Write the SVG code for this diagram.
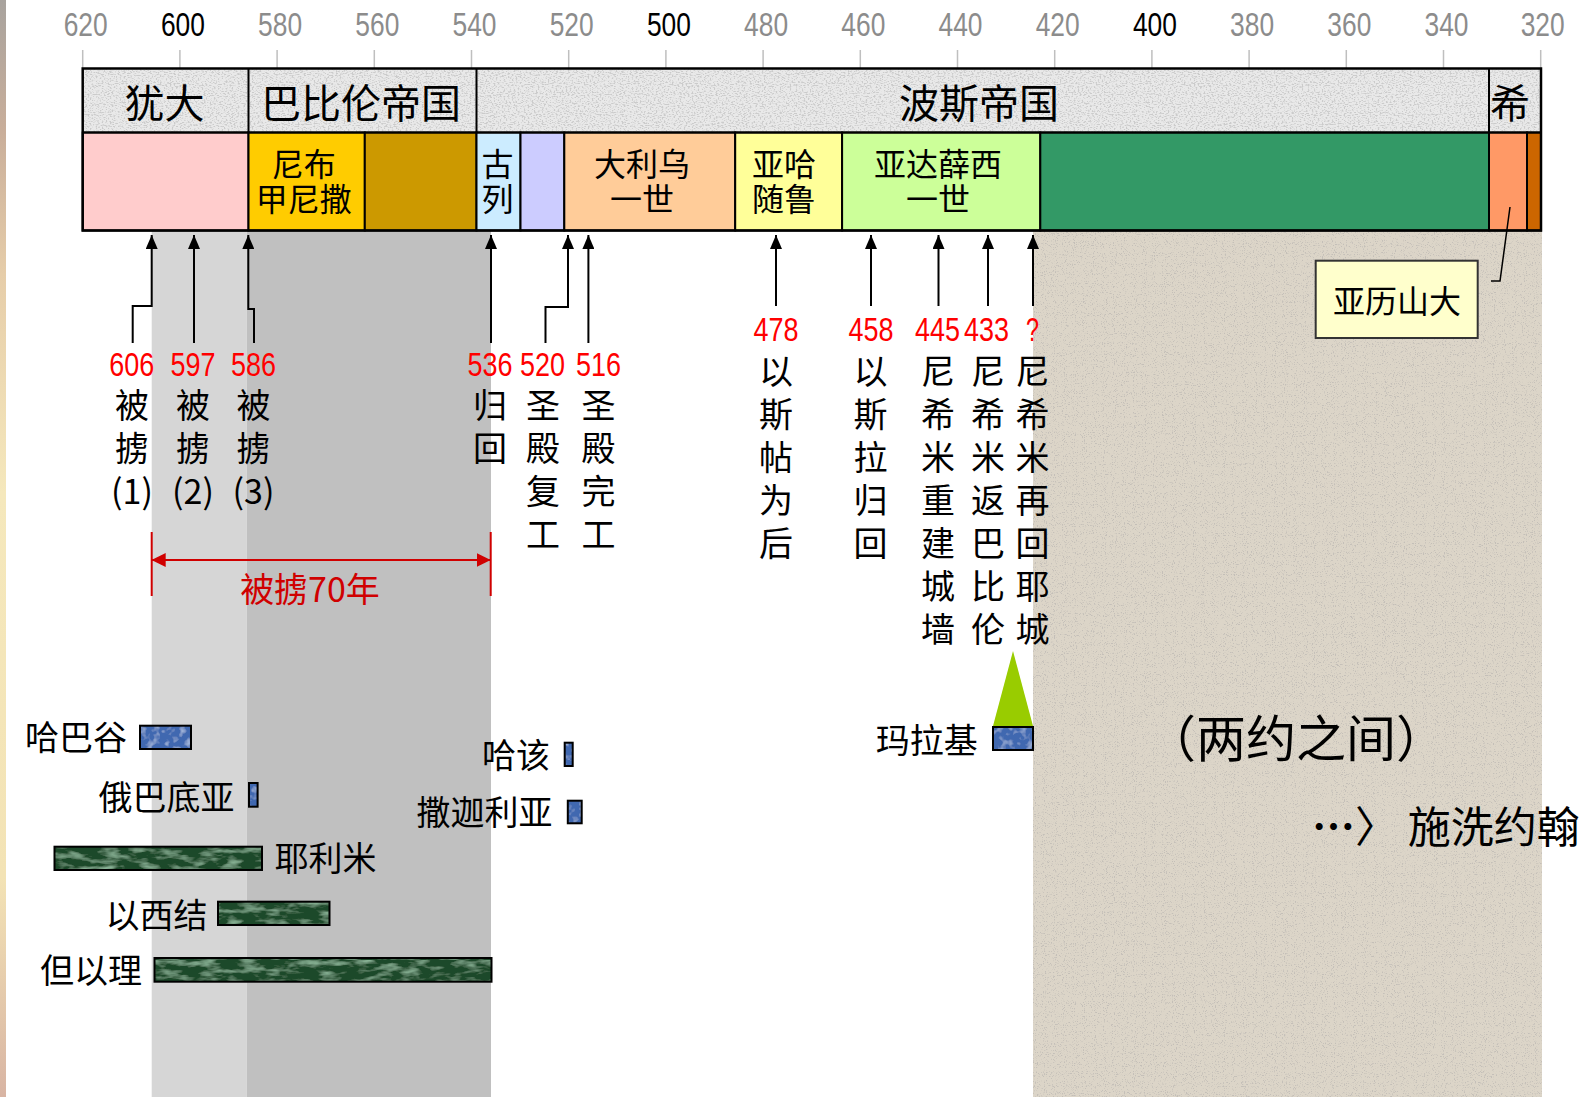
<svg xmlns="http://www.w3.org/2000/svg" width="1585" height="1097" viewBox="0 0 1585 1097">
<defs>
<style>
.ax{font-family:'Liberation Sans',sans-serif;font-size:33px;fill:#8C8C8C;text-anchor:middle}
.ax.k{fill:#000}
.yr{font-family:'Liberation Sans',sans-serif;font-size:33px;fill:#FF0000;text-anchor:middle}
.cj{font-family:'Noto Sans CJK SC','Noto Sans',sans-serif;fill:#000}
.t40{font-size:40px;text-anchor:middle}
.t32{font-size:32px;text-anchor:middle}
.col{font-size:34px;text-anchor:middle}
.lab{font-size:34px}
.end{text-anchor:end}
.arr{fill:none;stroke:#000;stroke-width:2;marker-end:url(#ah)}
.seg{stroke:#000;stroke-width:2}
.tick{stroke:#BFBFBF;stroke-width:1.5}
.gbar{fill:url(#pGreen);stroke:#000;stroke-width:2}
.bbar{fill:url(#pBlue);stroke:#000;stroke-width:2}
</style>
<marker id="ah" viewBox="0 0 14 12" refX="14" refY="6" markerWidth="14" markerHeight="12" markerUnits="userSpaceOnUse" orient="auto">
<path d="M0,0 L14,6 L0,12 Z" fill="#000"/>
</marker>
<marker id="rh" viewBox="0 0 14 14" refX="14" refY="7" markerWidth="14" markerHeight="14" markerUnits="userSpaceOnUse" orient="auto-start-reverse">
<path d="M0,0 L14,7 L0,14 Z" fill="#D00000"/>
</marker>
<linearGradient id="edge" x1="0" y1="0" x2="0" y2="1">
<stop offset="0" stop-color="#A8A39E"/>
<stop offset="0.12" stop-color="#C9AE9A"/>
<stop offset="0.25" stop-color="#E6CDA9"/>
<stop offset="0.45" stop-color="#F5E8BC"/>
<stop offset="0.8" stop-color="#F3E3B5"/>
<stop offset="1" stop-color="#D8B4A3"/>
</linearGradient>
<filter id="grain">
<feTurbulence type="fractalNoise" baseFrequency="0.9" numOctaves="2" seed="2" result="n"/>
<feColorMatrix in="n" type="matrix" values="0 0 0 0 0.55  0 0 0 0 0.52  0 0 0 0 0.48  0 0 0 -6 2.6" result="d"/>
<feComposite in="d" in2="SourceGraphic" operator="atop"/>
</filter>
<filter id="fibre">
<feTurbulence type="fractalNoise" baseFrequency="0.5 0.9" numOctaves="2" seed="9" result="n"/>
<feColorMatrix in="n" type="matrix" values="0 0 0 0 0.6  0 0 0 0 0.6  0 0 0 0 0.6  0 0 0 -5 2.6" result="d"/>
<feComposite in="d" in2="SourceGraphic" operator="atop"/>
</filter>
<filter id="marble">
<feTurbulence type="fractalNoise" baseFrequency="0.05 0.15" numOctaves="3" seed="5" result="n"/>
<feColorMatrix in="n" type="matrix" values="0 0 0 0 0.28  0 0 0 0 0.5  0 0 0 0 0.34  2.2 0 0 0 -1.0" result="l"/>
<feComposite in="l" in2="SourceGraphic" operator="atop"/>
</filter>
<filter id="bluetex">
<feTurbulence type="fractalNoise" baseFrequency="0.15" numOctaves="2" seed="4" result="n"/>
<feColorMatrix in="n" type="matrix" values="0 0 0 0 0.52  0 0 0 0 0.64  0 0 0 0 0.85  1.8 0 0 0 -0.9" result="l"/>
<feComposite in="l" in2="SourceGraphic" operator="atop"/>
</filter>
<pattern id="pGreen" patternUnits="userSpaceOnUse" width="500" height="60">
<rect width="500" height="60" fill="#1D4A29" filter="url(#marble)"/>
</pattern>
<pattern id="pBlue" patternUnits="userSpaceOnUse" width="80" height="40">
<rect width="80" height="40" fill="#4068B0" filter="url(#bluetex)"/>
</pattern>
</defs>

<rect width="1585" height="1097" fill="#FFFFFF"/>
<rect x="0" y="0" width="6" height="1097" fill="url(#edge)"/>

<g id="bands">
<rect x="151.7" y="231" width="95" height="866" fill="#D6D6D6"/>
<rect x="246.7" y="231" width="244.3" height="866" fill="#C0C0C0"/>
<rect x="1033" y="231" width="509" height="866" fill="#DCD5C8" filter="url(#grain)"/>
</g>

<g id="axis">
<g class="tick">
<line x1="82.7" y1="50" x2="82.7" y2="68"/><line x1="179.9" y1="50" x2="179.9" y2="68"/><line x1="277.1" y1="50" x2="277.1" y2="68"/><line x1="374.3" y1="50" x2="374.3" y2="68"/><line x1="471.5" y1="50" x2="471.5" y2="68"/><line x1="568.7" y1="50" x2="568.7" y2="68"/><line x1="665.9" y1="50" x2="665.9" y2="68"/><line x1="763.1" y1="50" x2="763.1" y2="68"/><line x1="860.3" y1="50" x2="860.3" y2="68"/><line x1="957.5" y1="50" x2="957.5" y2="68"/><line x1="1054.7" y1="50" x2="1054.7" y2="68"/><line x1="1151.9" y1="50" x2="1151.9" y2="68"/><line x1="1249.1" y1="50" x2="1249.1" y2="68"/><line x1="1346.3" y1="50" x2="1346.3" y2="68"/><line x1="1443.5" y1="50" x2="1443.5" y2="68"/><line x1="1540.7" y1="50" x2="1540.7" y2="68"/>
</g>
<text class="ax" x="85.7" y="36" textLength="44" lengthAdjust="spacingAndGlyphs">620</text>
<text class="ax k" x="182.9" y="36" textLength="44" lengthAdjust="spacingAndGlyphs">600</text>
<text class="ax" x="280.1" y="36" textLength="44" lengthAdjust="spacingAndGlyphs">580</text>
<text class="ax" x="377.3" y="36" textLength="44" lengthAdjust="spacingAndGlyphs">560</text>
<text class="ax" x="474.5" y="36" textLength="44" lengthAdjust="spacingAndGlyphs">540</text>
<text class="ax" x="571.7" y="36" textLength="44" lengthAdjust="spacingAndGlyphs">520</text>
<text class="ax k" x="668.9" y="36" textLength="44" lengthAdjust="spacingAndGlyphs">500</text>
<text class="ax" x="766.1" y="36" textLength="44" lengthAdjust="spacingAndGlyphs">480</text>
<text class="ax" x="863.3" y="36" textLength="44" lengthAdjust="spacingAndGlyphs">460</text>
<text class="ax" x="960.5" y="36" textLength="44" lengthAdjust="spacingAndGlyphs">440</text>
<text class="ax" x="1057.7" y="36" textLength="44" lengthAdjust="spacingAndGlyphs">420</text>
<text class="ax k" x="1154.9" y="36" textLength="44" lengthAdjust="spacingAndGlyphs">400</text>
<text class="ax" x="1252.1" y="36" textLength="44" lengthAdjust="spacingAndGlyphs">380</text>
<text class="ax" x="1349.3" y="36" textLength="44" lengthAdjust="spacingAndGlyphs">360</text>
<text class="ax" x="1446.5" y="36" textLength="44" lengthAdjust="spacingAndGlyphs">340</text>
<text class="ax" x="1542.7" y="36" textLength="44" lengthAdjust="spacingAndGlyphs">320</text>
</g>

<g id="empires">
<rect x="82.7" y="68.5" width="1458.3" height="64" fill="#E9E9E9" filter="url(#fibre)"/>
<text class="cj t40" x="164.5" y="118">犹大</text>
<text class="cj t40" x="361" y="118">巴比伦帝国</text>
<text class="cj t40" x="979" y="118">波斯帝国</text>
<text class="cj t40" x="1510" y="118">希</text>
</g>

<g id="rulers">
<rect class="seg" x="82.7" y="132.5" width="165.8" height="98" fill="#FFCCCC"/>
<rect class="seg" x="248.5" y="132.5" width="116.3" height="98" fill="#FFCC00"/>
<rect class="seg" x="364.8" y="132.5" width="111.7" height="98" fill="#CC9900"/>
<rect class="seg" x="476.5" y="132.5" width="44" height="98" fill="#CCECFF"/>
<rect class="seg" x="520.5" y="132.5" width="43.8" height="98" fill="#CCCCFF"/>
<rect class="seg" x="564.3" y="132.5" width="170.9" height="98" fill="#FFCC99"/>
<rect class="seg" x="735.2" y="132.5" width="106.9" height="98" fill="#FFFF99"/>
<rect class="seg" x="842.1" y="132.5" width="198.2" height="98" fill="#CCFF99"/>
<rect class="seg" x="1040.3" y="132.5" width="448.7" height="98" fill="#339966"/>
<rect class="seg" x="1489" y="132.5" width="38" height="98" fill="#FF9966"/>
<rect class="seg" x="1527" y="132.5" width="14" height="98" fill="#CC6600"/>
<text class="cj t32" x="303.7" y="176"><tspan x="303.7">尼布</tspan><tspan x="303.7" dy="35">甲尼撒</tspan></text>
<text class="cj t32" x="497.5" y="176"><tspan x="497.5">古</tspan><tspan x="497.5" dy="35">列</tspan></text>
<text class="cj t32" x="642" y="176"><tspan x="642">大利乌</tspan><tspan x="642" dy="35">一世</tspan></text>
<text class="cj t32" x="784" y="176"><tspan x="784">亚哈</tspan><tspan x="784" dy="35">随鲁</tspan></text>
<text class="cj t32" x="938" y="176"><tspan x="938">亚达薛西</tspan><tspan x="938" dy="35">一世</tspan></text>
</g>

<g id="frame" fill="none" stroke="#000">
<rect x="82.7" y="68.5" width="1458.3" height="162" stroke-width="2.5"/>
<line x1="82.7" y1="132.5" x2="1541" y2="132.5" stroke-width="2"/>
<line x1="248.5" y1="68.5" x2="248.5" y2="132.5" stroke-width="2"/>
<line x1="476.5" y1="68.5" x2="476.5" y2="132.5" stroke-width="2"/>
<line x1="1489" y1="68.5" x2="1489" y2="132.5" stroke-width="2"/>
</g>

<g id="connectors">
<path class="arr" d="M132.7,343 V306 H151.7 V235"/>
<path class="arr" d="M194,343 V235"/>
<path class="arr" d="M254,343 V309 H248.3 V235"/>
<path class="arr" d="M491,343 V235"/>
<path class="arr" d="M545.5,343 V307 H568 V235"/>
<path class="arr" d="M588.4,343 V235"/>
<path class="arr" d="M776,306 V235"/>
<path class="arr" d="M871,306 V235"/>
<path class="arr" d="M938.5,306 V235"/>
<path class="arr" d="M988,306 V235"/>
<path class="arr" d="M1033,306 V235"/>
<path d="M1491,281 H1500 L1510,207" fill="none" stroke="#000" stroke-width="1.5"/>
<g stroke="#D00000" stroke-width="2" fill="none">
<path d="M151.7,560 H490.7" marker-start="url(#rh)" marker-end="url(#rh)"/>
<path d="M151.7,532 V596"/>
<path d="M490.7,532 V596"/>
</g>
</g>

<g id="events">
<text class="yr" x="131.7" y="376" textLength="45" lengthAdjust="spacingAndGlyphs">606</text>
<text class="yr" x="193" y="376" textLength="45" lengthAdjust="spacingAndGlyphs">597</text>
<text class="yr" x="253.5" y="376" textLength="45" lengthAdjust="spacingAndGlyphs">586</text>
<text class="yr" x="490" y="376" textLength="45" lengthAdjust="spacingAndGlyphs">536</text>
<text class="yr" x="542.5" y="376" textLength="45" lengthAdjust="spacingAndGlyphs">520</text>
<text class="yr" x="598.5" y="376" textLength="45" lengthAdjust="spacingAndGlyphs">516</text>
<text class="yr" x="776" y="341" textLength="45" lengthAdjust="spacingAndGlyphs">478</text>
<text class="yr" x="871" y="341" textLength="45" lengthAdjust="spacingAndGlyphs">458</text>
<text class="yr" x="937.6" y="341" textLength="45" lengthAdjust="spacingAndGlyphs">445</text>
<text class="yr" x="986.5" y="341" textLength="45" lengthAdjust="spacingAndGlyphs">433</text>
<text class="yr" x="1032.5" y="341" textLength="13" lengthAdjust="spacingAndGlyphs">?</text>

<text class="cj col" x="132" y="418"><tspan x="132">被</tspan><tspan x="132" dy="43">掳</tspan><tspan x="132" dy="43">(1)</tspan></text>
<text class="cj col" x="193" y="418"><tspan x="193">被</tspan><tspan x="193" dy="43">掳</tspan><tspan x="193" dy="43">(2)</tspan></text>
<text class="cj col" x="253.5" y="418"><tspan x="253.5">被</tspan><tspan x="253.5" dy="43">掳</tspan><tspan x="253.5" dy="43">(3)</tspan></text>
<text class="cj col" x="490" y="418"><tspan x="490">归</tspan><tspan x="490" dy="43">回</tspan></text>
<text class="cj col" x="543" y="418"><tspan x="543">圣</tspan><tspan x="543" dy="43">殿</tspan><tspan x="543" dy="43">复</tspan><tspan x="543" dy="43">工</tspan></text>
<text class="cj col" x="598.5" y="418"><tspan x="598.5">圣</tspan><tspan x="598.5" dy="43">殿</tspan><tspan x="598.5" dy="43">完</tspan><tspan x="598.5" dy="43">工</tspan></text>
<text class="cj col" x="776" y="384"><tspan x="776">以</tspan><tspan x="776" dy="43">斯</tspan><tspan x="776" dy="43">帖</tspan><tspan x="776" dy="43">为</tspan><tspan x="776" dy="43">后</tspan></text>
<text class="cj col" x="870.5" y="384"><tspan x="870.5">以</tspan><tspan x="870.5" dy="43">斯</tspan><tspan x="870.5" dy="43">拉</tspan><tspan x="870.5" dy="43">归</tspan><tspan x="870.5" dy="43">回</tspan></text>
<text class="cj col" x="938" y="384"><tspan x="938">尼</tspan><tspan x="938" dy="43">希</tspan><tspan x="938" dy="43">米</tspan><tspan x="938" dy="43">重</tspan><tspan x="938" dy="43">建</tspan><tspan x="938" dy="43">城</tspan><tspan x="938" dy="43">墙</tspan></text>
<text class="cj col" x="988" y="384"><tspan x="988">尼</tspan><tspan x="988" dy="43">希</tspan><tspan x="988" dy="43">米</tspan><tspan x="988" dy="43">返</tspan><tspan x="988" dy="43">巴</tspan><tspan x="988" dy="43">比</tspan><tspan x="988" dy="43">伦</tspan></text>
<text class="cj col" x="1032.5" y="384"><tspan x="1032.5">尼</tspan><tspan x="1032.5" dy="43">希</tspan><tspan x="1032.5" dy="43">米</tspan><tspan x="1032.5" dy="43">再</tspan><tspan x="1032.5" dy="43">回</tspan><tspan x="1032.5" dy="43">耶</tspan><tspan x="1032.5" dy="43">城</tspan></text>

<text class="cj" x="310" y="602" font-size="34" text-anchor="middle" style="fill:#D00000">被掳70年</text>
</g>

<g id="alexander">
<rect x="1315.7" y="260.7" width="162" height="77.3" fill="#FFFFCC" stroke="#333" stroke-width="2"/>
<text class="cj t32" x="1397" y="313">亚历山大</text>
</g>

<g id="prophets">
<rect class="bbar" x="140" y="725.7" width="51" height="23.3"/>
<text class="cj lab end" x="127" y="750">哈巴谷</text>
<rect class="bbar" x="249" y="783" width="8.6" height="23.7"/>
<text class="cj lab end" x="234.5" y="809.5">俄巴底亚</text>
<rect class="gbar" x="54.5" y="846.7" width="207.5" height="23.3"/>
<text class="cj lab" x="274.5" y="871">耶利米</text>
<rect class="gbar" x="218" y="901.7" width="111.5" height="23.3"/>
<text class="cj lab end" x="207.6" y="928">以西结</text>
<rect class="gbar" x="154.5" y="958" width="337" height="23.7"/>
<text class="cj lab end" x="142" y="983">但以理</text>
<rect class="bbar" x="564.7" y="742.7" width="8" height="23.3"/>
<text class="cj lab end" x="550" y="768">哈该</text>
<rect class="bbar" x="567.8" y="800.7" width="13.9" height="22.6"/>
<text class="cj lab end" x="552.6" y="824.5">撒迦利亚</text>
<polygon points="1013,651 993,726 1033,726" fill="#99CC00"/>
<rect class="bbar" x="993" y="727" width="40" height="23"/>
<text class="cj lab end" x="977.7" y="753">玛拉基</text>
</g>

<g id="notes">
<text class="cj" x="1296" y="757" font-size="50" text-anchor="middle">（两约之间）</text>
<text class="cj" x="1312" y="843" font-size="43"><tspan font-weight="bold">…</tspan>〉 施洗约翰</text>
</g>
</svg>
